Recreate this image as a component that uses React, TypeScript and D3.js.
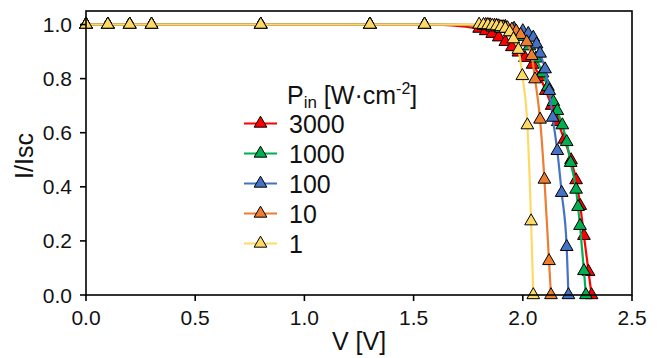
import React from "react";
import * as d3 from "d3";

const W = 659;
const H = 358;

const legendLabels = ["3000", "1000", "100", "10", "1"];
const seriesColors = ["#ff0000", "#00b050", "#4472c4", "#ed7d31", "#ffd966"];

const xTicks = [0, 0.5, 1.0, 1.5, 2.0, 2.5];
const yTicks = [0, 0.2, 0.4, 0.6, 0.8, 1.0];

const lowV: [number, number][] = [
  [0, 1], [0.1, 1], [0.2, 1], [0.3, 1], [0.8, 1], [1.3, 1], [1.55, 1],
];

const p3000: [number, number][] = [
  ...lowV,
  [1.8, 0.985], [1.83, 0.976], [1.86, 0.966], [1.89, 0.953], [1.92, 0.936],
  [1.95, 0.917], [1.98, 0.897], [2.01, 0.877], [2.045, 0.852], [2.079, 0.806],
  [2.105, 0.755], [2.132, 0.70], [2.16, 0.64], [2.19, 0.575], [2.221, 0.499],
  [2.244, 0.425], [2.263, 0.33], [2.28, 0.219], [2.301, 0.086], [2.315, 0],
];

const p1000: [number, number][] = [
  ...lowV,
  [1.82, 0.995], [1.86, 0.99], [1.9, 0.984], [1.95, 0.972], [1.99, 0.955],
  [2.03, 0.92], [2.06, 0.875], [2.09, 0.82], [2.115, 0.77], [2.14, 0.714],
  [2.158, 0.681], [2.181, 0.628], [2.201, 0.566], [2.219, 0.489], [2.244, 0.39],
  [2.253, 0.326], [2.262, 0.256], [2.28, 0.089], [2.289, 0],
];

const p100: [number, number][] = [
  ...lowV,
  [1.84, 0.998], [1.88, 0.996], [1.92, 0.992], [1.96, 0.985], [2.0, 0.976],
  [2.025, 0.966], [2.048, 0.952], [2.063, 0.927], [2.079, 0.893], [2.102, 0.835],
  [2.121, 0.755], [2.137, 0.656], [2.158, 0.533], [2.178, 0.378], [2.201, 0.178],
  [2.209, 0],
];

const p10: [number, number][] = [
  ...lowV,
  [1.83, 0.999], [1.85, 0.998], [1.87, 0.996], [1.89, 0.994], [1.91, 0.991],
  [1.93, 0.987], [1.95, 0.982], [1.97, 0.975], [1.99, 0.962], [2.018, 0.935],
  [2.041, 0.884], [2.056, 0.798], [2.079, 0.649], [2.099, 0.427], [2.12, 0.126],
  [2.129, 0],
];

const p1: [number, number][] = [
  ...lowV,
  [1.8, 1.0], [1.82, 0.999], [1.84, 0.998], [1.86, 0.996], [1.88, 0.994],
  [1.9, 0.991], [1.92, 0.985], [1.94, 0.972], [1.957, 0.946], [1.98, 0.907],
  [1.998, 0.81], [2.021, 0.628], [2.038, 0.273], [2.048, 0],
];

const seriesData = [p3000, p1000, p100, p10, p1];

const M = { left: 86, right: 632, top: 11, bottom: 295 };

export default function App() {
  const x = d3.scaleLinear().domain([0, 2.5]).range([M.left, M.right]);
  const y = d3.scaleLinear().domain([0, 1.05]).range([M.bottom, M.top]);
  const line = d3
    .line<[number, number]>()
    .x((d) => x(d[0]))
    .y((d) => y(d[1]))
    .curve(d3.curveMonotoneX);
  const tri = d3.symbol().type(d3.symbolTriangle).size(70)();
  const font = "Arial, 'Liberation Sans', sans-serif";

  const order = [0, 1, 2, 3, 4];
  const legX = 244;
  const legX2 = 277;
  const legY0 = 123.5;
  const legDy = 30;

  return (
    <svg
      width={W}
      height={H}
      style={{ position: "absolute", left: 0, top: 0 }}
      fontFamily={font}
    >
      <rect x={0} y={0} width={W} height={H} fill="#fff" />
      {order.map((i) => (
        <g key={i}>
          <path
            d={line(seriesData[i]) || ""}
            fill="none"
            stroke={seriesColors[i]}
            strokeWidth={2.2}
          />
          {seriesData[i].map((d, j) => (
            <path
              key={j}
              d={tri || ""}
              transform={`translate(${x(d[0])},${y(d[1])})`}
              fill={seriesColors[i]}
              stroke="#000"
              strokeWidth={1}
            />
          ))}
        </g>
      ))}
      {/* frame */}
      <rect
        x={M.left}
        y={M.top}
        width={M.right - M.left}
        height={M.bottom - M.top}
        fill="none"
        stroke="#000"
        strokeWidth={1.6}
      />
      {/* x ticks */}
      {xTicks.map((t) => (
        <g key={t}>
          <line x1={x(t)} x2={x(t)} y1={M.bottom} y2={M.bottom + 6} stroke="#000" strokeWidth={1.6} />
          <text x={x(t)} y={325} textAnchor="middle" fontSize={21} fill="#111">
            {t.toFixed(1)}
          </text>
        </g>
      ))}
      {yTicks.map((t) => (
        <g key={t}>
          <line x1={M.left - 6} x2={M.left} y1={y(t)} y2={y(t)} stroke="#000" strokeWidth={1.6} />
          <text x={72} y={y(t) + 7.5} textAnchor="end" fontSize={21} fill="#111">
            {t.toFixed(1)}
          </text>
        </g>
      ))}
      <text x={(M.left + M.right) / 2} y={350} textAnchor="middle" fontSize={25} fill="#111">
        V [V]
      </text>
      <text
        transform={`translate(33,156) rotate(-90)`}
        textAnchor="middle"
        fontSize={25}
        fill="#111"
      >
        I/Isc
      </text>
      {/* legend */}
      <text x={287} y={104} fontSize={25} fill="#111">
        P
        <tspan fontSize={17} dy={4}>in</tspan>
        <tspan fontSize={25} dy={-4}> [W·cm</tspan>
        <tspan fontSize={16} dy={-10}>-2</tspan>
        <tspan fontSize={25} dy={10}>]</tspan>
      </text>
      {legendLabels.map((lab, i) => {
        const yy = legY0 + i * legDy;
        return (
          <g key={lab}>
            <line x1={legX} x2={legX2} y1={yy} y2={yy} stroke={seriesColors[i]} strokeWidth={2.2} />
            <path
              d={tri || ""}
              transform={`translate(${(legX + legX2) / 2},${yy})`}
              fill={seriesColors[i]}
              stroke="#000"
              strokeWidth={1}
            />
            <text x={289} y={yy + 9.5} fontSize={25} fill="#111">
              {lab}
            </text>
          </g>
        );
      })}
    </svg>
  );
}
